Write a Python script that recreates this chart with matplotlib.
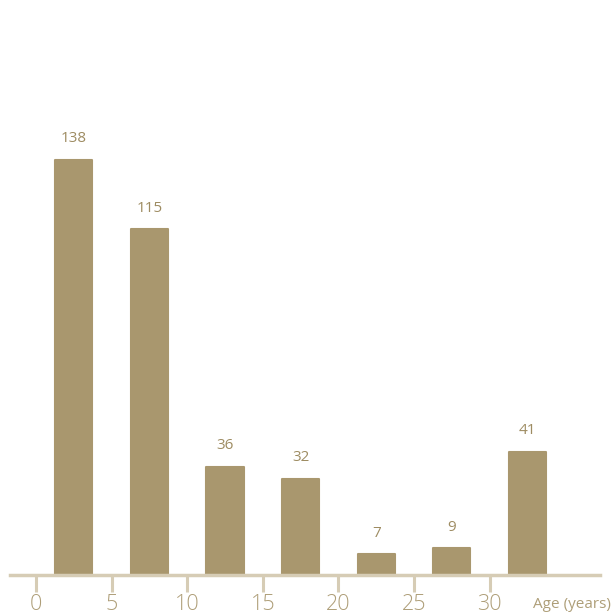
import matplotlib
matplotlib.use("Agg")
import matplotlib.pyplot as plt

age_bins = [2.5, 7.5, 12.5, 17.5, 22.5, 27.5, 32.5]
counts = [138, 115, 36, 32, 7, 9, 41]
tick_values = [0, 5, 10, 15, 20, 25, 30]
tick_labels = ["0", "5", "10", "15", "20", "25", "30"]
axis_title = "Age (years)"

bar_color = "#A9976E"
axis_color = "#D6CCB5"
text_color = "#AE9E78"

W, H = 612, 615
fig = plt.figure(figsize=(W / 100, H / 100), dpi=100)
# axis line at y=575px, x from 10 to 600 px
ax = fig.add_axes([10 / W, (H - 575) / H, 590 / W, 575 / H])
x0 = -1.72
xscale = 15.12  # px per unit
ax.set_xlim(x0, x0 + 590 / xscale)
ax.set_ylim(0, 575 / 3.01)

ax.bar(age_bins, counts, width=2.45, color=bar_color, edgecolor=bar_color,
       linewidth=1.5, joinstyle="round", zorder=2)
for x, c in zip(age_bins, counts):
    ax.annotate(str(c), (x, c), xytext=(0, 9.5), textcoords="offset points",
                ha="center", va="bottom", fontsize=11, color="#9E8C62",
                family="Open Sans")

for s in ["top", "right", "left"]:
    ax.spines[s].set_visible(False)
ax.spines["bottom"].set_color(axis_color)
ax.spines["bottom"].set_linewidth(2.5)
ax.spines["bottom"].set_zorder(3)
ax.set_yticks([])
ax.set_xticks(tick_values)
ax.set_xticklabels(tick_labels)
ax.tick_params(axis="x", length=12, width=2.2, color=axis_color, direction="out",
               labelsize=15.5, labelcolor=text_color, pad=2)
for lbl in ax.get_xticklabels():
    lbl.set_family("Open Sans")
    lbl.set_fontweight("light")

fig.text(572 / W, 1 - 605 / H, axis_title, ha="center", va="center",
         fontsize=11, color=text_color, family="Open Sans")

fig.savefig("out.png", dpi=100)
